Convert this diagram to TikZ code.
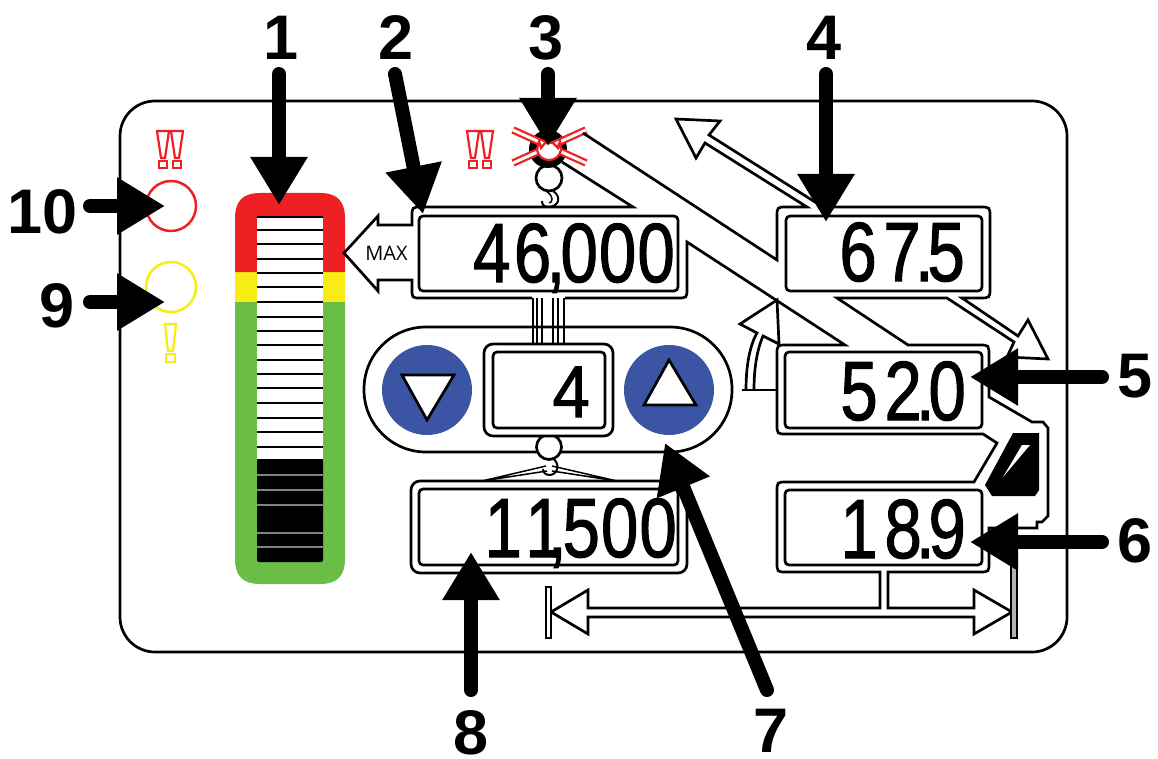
\documentclass[tikz,border=0pt]{standalone}
\usepackage{fontspec}
\usepackage{graphicx}
\usetikzlibrary{arrows.meta}
\newfontfamily\lcdfont[FakeBold=1.4]{Liberation Sans}
\newfontfamily\numfont{Liberation Sans}
\newfontfamily\maxfont{Open Sans}
\definecolor{rd}{HTML}{EE2024}
\definecolor{yl}{HTML}{F7EC13}
\definecolor{gn}{HTML}{6ABD45}
\definecolor{bl}{HTML}{3B54A4}
\newcommand\narrowtext[1]{\scalebox{.8}[1]{\lcdfont\fontsize{84}{84}\selectfont #1}}
\tikzset{
  ln/.style={line width=2.7pt,line join=miter,draw=black},
  thinln/.style={line width=1.5pt,draw=black},
  lcdframe/.style={draw=black,line width=2.7pt,rounded corners=4pt,inner sep=0pt,fill=white},
  lcdnum/.style={inner sep=0pt,anchor=base east,text=black},
  callout/.style={line width=14pt,line cap=round,draw=black,-{Triangle[length=48pt,width=54pt]}},
  tag/.style={font=\numfont\bfseries\fontsize{63}{63}\selectfont,inner sep=0pt,text=black},
  bang/.style={line width=2.2pt,fill=white,line join=miter},
  tick/.style={line width=2pt,draw=black},
  greytick/.style={line width=1.2pt,draw=black!50},
}
\begin{document}
\begin{tikzpicture}[x=1pt,y=-1pt]
\useasboundingbox (0,0) rectangle (1158,759);
\fill[white] (0,0) rectangle (1158,759);
% panel
\draw[ln,rounded corners=35pt] (120,101) rectangle (1067,652);
% level bar
\fill[gn] (235,300) -- (235,559) .. controls (235,576) and (243,584) .. (260,584) -- (320,584) .. controls (337,584) and (345,576) .. (345,559) -- (345,300) -- cycle;
\fill[yl] (235,272) rectangle (345,302);
\fill[rd] (235,272) -- (235,218) .. controls (235,201) and (243,193) .. (260,193) -- (320,193) .. controls (337,193) and (345,201) .. (345,218) -- (345,272) -- cycle;
\fill[white] (257,216) rectangle (323,460);
\fill[black,rounded corners=2pt] (257,460) rectangle (323,562);
\foreach \y in {217,230,244.3,259,273.3,287.3,301.7,316.7,330.7,345,359.5,374,388,403,418,432,447,460}
  \draw[tick] (257,\y) -- (323,\y);
\foreach \y in {475,490,505,533,547}
  \draw[greytick] (257,\y) -- (323,\y);
% warning lamps
\node[circle,draw=rd,line width=2.5pt,minimum size=50pt,inner sep=0pt] (lampred) at (171,206) {};
\node[circle,draw=yl,line width=2.5pt,minimum size=50pt,inner sep=0pt] (lampyellow) at (171,287) {};
% exclamation marks
\foreach \x in {157,171,467,481}{
  \draw[bang,draw=rd] (\x,131) -- (\x+12,131) -- (\x+8,158) -- (\x+4,158) -- cycle;
  \draw[bang,draw=rd] (\x+2,161) rectangle (\x+10,168);
}
\draw[bang,draw=yl] (165,324) -- (176,324) -- (173,351) -- (168,351) -- cycle;
\draw[bang,draw=yl] (166,354) rectangle (175,362);
% crane head
\fill[black] (548,149) circle (19);
\draw[ln] (549,178) circle (13);
\draw[thinln,line width=2pt] (553,191) .. controls (561,196) and (560,206) .. (549,207) .. controls (544,207) and (542,205) .. (542,201);
\draw[thinln] (546,191) .. controls (554,196) and (553,203) .. (549,203);
% X over the hook
\foreach \a/\b in {{(513,130)}/{(586,163)},{(513,163)}/{(586,130)}}{
  \draw[rd,line width=7.5pt] \a -- \b;
  \draw[white,line width=3pt] \a -- \b;
}
\fill[white,draw=rd,line width=2.2pt] (539,141) -- (541,148) -- (545,143) -- (553,143) -- (558,148) -- (560,141) -- (561,150) .. controls (560,156) and (555,160) .. (549,160) .. controls (543,160) and (538,156) .. (537,150) -- cycle;
% outline: MAX arrow and upper boom
\draw[ln] (532,298) -- (421,298) .. controls (412,298) .. (412,289) -- (412,280) -- (378,280) -- (378,291) -- (344,253) -- (378,216) -- (378,225) -- (412,225) -- (412,217) .. controls (412,207) .. (422,207) -- (633,207) -- (562,162);
% outline: rest of the panel artwork
\draw[ln] (565,298) -- (677,298) .. controls (687,298) .. (687,288) -- (687,242) -- (845,345) -- (787,345) .. controls (777,345) .. (777,355) -- (777,424) .. controls (777,434) .. (787,434) -- (983,434) -- (997,443) -- (974,482) -- (787,482) .. controls (777,482) .. (777,492) -- (777,562) .. controls (777,572) .. (787,572) -- (880,572) -- (880,608) -- (588,608) -- (588,590) -- (551,612) -- (588,634) -- (588,617) -- (974,617) -- (974,634) -- (1012,612) -- (974,590) -- (974,608) -- (888,608) -- (888,572) -- (979,572) .. controls (989,572) .. (989,562) -- (989,528) -- (1037,528) -- (1037,522) -- (1042,522) -- (1048,516) -- (1048,428) -- (1043,422) -- (1032,422) -- (989,397) -- (989,356) .. controls (989,345) .. (979,345) -- (908,345) -- (837,298) -- (947,298) -- (1014,342) -- (1007,357) -- (1048,359) -- (1028,320) -- (1018,336) -- (962,298) -- (979,298) .. controls (990,298) .. (990,288) -- (990,217) .. controls (990,207) .. (979,207) -- (826,207) -- (815,202) -- (709,135) -- (720,121) -- (676,119) -- (696,158) -- (705,143) -- (807,207) -- (787,207) .. controls (777,207) .. (777,217) -- (777,260) -- (583,133);
% rotation arc arrow
\draw[ln] (746,390) .. controls (746,365) and (750,345) .. (757,333) -- (740,324) -- (777,300) -- (779,344) -- (763,336) .. controls (757,350) and (754,368) .. (754,390);
\draw[ln] (742,390) -- (777,390);
% end stops
\draw[line width=2pt,fill=white] (546,587) rectangle (551,638);
\draw[line width=1.8pt,fill=black!30] (1011,560) rectangle (1017,638);
% wedge
\fill[black] (1013,433) -- (1039,433) -- (1039,490) -- (1035,496) -- (992,496) -- (985,485) -- cycle;
\fill[white] (1022,445) -- (1030,445) -- (1003,477) -- cycle;
% pill and buttons
\draw[ln,fill=white,rounded corners=62pt] (364,327) rectangle (732,452);
\foreach \x in {533,537,542,553,558,564}
  \draw[thinln] (\x,298) -- (\x,344);
\node[circle,fill=bl,minimum size=90pt,inner sep=0pt] (btndown) at (427,390) {};
\node[circle,fill=bl,minimum size=90pt,inner sep=0pt] (btnup) at (669,390) {};
\draw[ln,fill=white] (402,375) -- (454,375) -- (427,420) -- cycle;
\draw[ln,fill=white] (669,360) -- (696,405) -- (644,405) -- cycle;
% lower hook and sling
\draw[ln,fill=white] (549,447) circle (12.5);
\draw[thinln] (482,481) -- (546,466) (482,481) -- (547,471) (617,481) -- (552,466) (617,481) -- (552,471);
\draw[thinln,line width=2pt] (552,458) .. controls (560,462) and (559,474) .. (550,475) .. controls (546,475) and (543,473) .. (543,469);
% LCD frames
\draw[ln,fill=white,rounded corners=9pt] (484,344) rectangle (613,436);
\node[lcdframe,minimum width=259pt,minimum height=75pt] (fa) at (548.5,253.5) {};
\node[lcdframe,minimum width=112pt,minimum height=76pt] (fb) at (549,390) {};
\draw[ln,fill=white,rounded corners=9pt] (411,481) rectangle (687,573);
\node[lcdframe,minimum width=259pt,minimum height=76pt] (fc) at (548.5,527) {};
\node[lcdframe,minimum width=196pt,minimum height=75pt] (fd) at (884,253.5) {};
\node[lcdframe,minimum width=197pt,minimum height=76pt] (fe) at (883.5,390) {};
\node[lcdframe,minimum width=197pt,minimum height=75pt] (ff) at (883.5,527.5) {};
% readouts
\node[lcdnum] (va) at (675,282) {\narrowtext{4\kern.05em 6\kern-.07em,\kern-.07em 0\kern.016em 0\kern.016em 0}};
\node[lcdnum] (vb) at (590,417) {\scalebox{.8}[.87]{\lcdfont\fontsize{84}{84}\selectfont 4}};
\node[lcdnum] (vc) at (677,557) {\narrowtext{1\kern.05em 1\kern-.22em,\kern-.06em 5\kern.016em 0\kern.016em 0}};
\node[lcdnum] (vd) at (965,281) {\narrowtext{6\kern.1em 7\kern-.09em.\kern-.09em 5}};
\node[lcdnum] (ve) at (966,420) {\narrowtext{5\kern.1em 2\kern-.09em.\kern-.09em 0}};
\node[lcdnum] (vf) at (966,558) {\narrowtext{1\kern.1em 8\kern-.09em.\kern-.09em 9}};
\node[font=\maxfont\fontsize{20}{20}\selectfont,inner sep=0pt] (maxlabel) at (386.5,253) {MAX};
% callouts
\node[tag] (n1) at (281,38) {1};
\node[tag] (n2) at (396,38) {2};
\node[tag] (n3) at (546,38) {3};
\node[tag] (n4) at (824,38) {4};
\node[tag] (n5) at (1135,376) {5};
\node[tag] (n6) at (1135,541) {6};
\node[tag] (n7) at (771,731) {7};
\node[tag] (n8) at (471,733) {8};
\node[tag] (n9) at (57,306) {9};
\node[tag] (n10) at (43,212) {10};
\coordinate (t1) at (279,74); \coordinate (h1) at (279,205);
\coordinate (t2) at (395,74); \coordinate (h2) at (423,214);
\coordinate (t3) at (548,74); \coordinate (h3) at (548,146);
\coordinate (t4) at (826,74); \coordinate (h4) at (826,222);
\coordinate (t5) at (1102,377); \coordinate (h5) at (970,377);
\coordinate (t6) at (1102,542); \coordinate (h6) at (970,542);
\coordinate (t7) at (767,690); \coordinate (h7) at (665,443);
\coordinate (t8) at (471,690); \coordinate (h8) at (471,552);
\coordinate (t9) at (90,302); \coordinate (h9) at (165,302);
\coordinate (t10) at (90,206); \coordinate (h10) at (165,206);
\foreach \i in {1,...,10} \draw[callout] (t\i) -- (h\i);
\end{tikzpicture}
\end{document}
